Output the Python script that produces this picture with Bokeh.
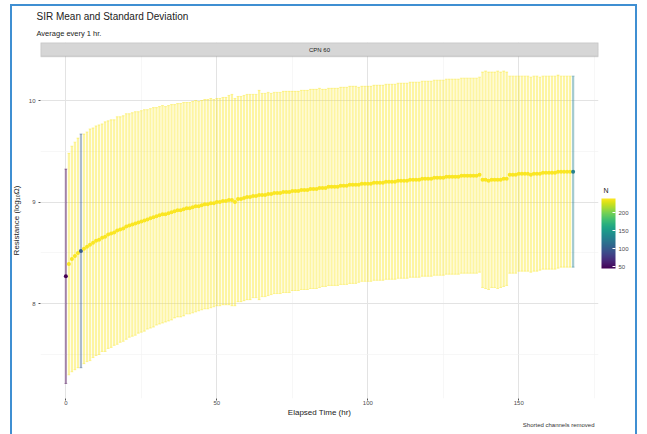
import numpy as np
from bokeh.plotting import figure
from bokeh.models import (ColumnDataSource, LinearColorMapper, ColorBar, FixedTicker,
                          Label, BoxAnnotation, Range1d, InlineStyleSheet, Title)
from bokeh.palettes import Viridis256
from bokeh.transform import transform
from bokeh.embed import file_html
from bokeh.resources import INLINE

# ---------------- data ----------------
hours = list(range(169))

mean_log = [
    8.27,
    8.39, 8.44, 8.47, 8.50,
    8.52,
    8.54, 8.56, 8.58, 8.60,
    8.62, 8.63, 8.65, 8.66, 8.68, 8.69, 8.70, 8.72, 8.73, 8.74,
    8.76, 8.77, 8.78, 8.79, 8.80, 8.81, 8.82, 8.83, 8.84, 8.85,
    8.86, 8.87, 8.88, 8.88, 8.89, 8.90, 8.91, 8.92, 8.92, 8.93,
    8.94, 8.94, 8.95, 8.96, 8.96, 8.97, 8.98, 8.98, 8.99, 8.99,
    9.00, 9.00, 9.01, 9.01, 9.02, 9.02, 9.00, 9.03, 9.03, 9.04,
    9.05, 9.05, 9.06, 9.06, 9.07, 9.07, 9.07, 9.08, 9.08, 9.09,
    9.09, 9.09, 9.10, 9.10, 9.10, 9.11, 9.11, 9.11, 9.12, 9.12,
    9.12, 9.13, 9.13, 9.13, 9.14, 9.14, 9.14, 9.15, 9.15, 9.15,
    9.15, 9.16, 9.16, 9.16, 9.17, 9.17, 9.17, 9.17, 9.18, 9.18,
    9.18, 9.18, 9.19, 9.19, 9.19, 9.19, 9.20, 9.20, 9.20, 9.20,
    9.21, 9.21, 9.21, 9.21, 9.22, 9.22, 9.22, 9.22, 9.23, 9.23,
    9.23, 9.23, 9.24, 9.24, 9.24, 9.24, 9.25, 9.25, 9.25, 9.25,
    9.25, 9.26, 9.26, 9.26, 9.26, 9.26, 9.26, 9.27,
    9.22, 9.22, 9.21, 9.22, 9.22, 9.22, 9.22, 9.23, 9.23,
    9.27, 9.27, 9.27, 9.28, 9.28, 9.28, 9.28, 9.27, 9.28, 9.28,
    9.28, 9.29, 9.29, 9.29, 9.29, 9.29, 9.30, 9.30, 9.30, 9.30,
    9.30, 9.30,
]

sd_log = [
    1.055,
    1.09, 1.11, 1.12, 1.13,
    1.15,
    1.13, 1.13, 1.14, 1.13,
    1.13, 1.13, 1.12, 1.13, 1.12, 1.12, 1.11, 1.12, 1.11, 1.11,
    1.11, 1.10, 1.10, 1.10, 1.09, 1.09, 1.09, 1.08, 1.08, 1.08,
    1.07, 1.07, 1.07, 1.06, 1.06, 1.06, 1.05, 1.05, 1.05, 1.05,
    1.04, 1.04, 1.04, 1.04, 1.03, 1.03, 1.03, 1.03, 1.03, 1.02,
    1.02, 1.02, 1.02, 1.02, 1.03, 1.04, 1.02, 1.01, 1.01, 1.01,
    1.01, 1.01, 1.00, 1.00, 1.03, 1.00, 1.00, 1.00, 0.99, 0.99,
    0.99, 0.99, 0.99, 0.99, 0.99, 0.98, 0.98, 0.98, 0.98, 0.98,
    0.98, 0.98, 0.98, 0.98, 0.98, 0.97, 0.97, 0.97, 0.97, 0.97,
    0.97, 0.97, 0.97, 0.97, 0.97, 0.97, 0.97, 0.96, 0.96, 0.96,
    0.96, 0.96, 0.96, 0.96, 0.96, 0.96, 0.96, 0.96, 0.96, 0.96,
    0.96, 0.96, 0.96, 0.96, 0.96, 0.96, 0.96, 0.96, 0.96, 0.96,
    0.96, 0.96, 0.96, 0.96, 0.96, 0.96, 0.96, 0.96, 0.96, 0.96,
    0.96, 0.96, 0.96, 0.96, 0.96, 0.96, 0.96, 0.96,
    1.06, 1.07, 1.07, 1.06, 1.06, 1.07, 1.06, 1.06, 1.05,
    0.97, 0.97, 0.97, 0.96, 0.96, 0.96, 0.96, 0.96, 0.96, 0.96,
    0.95, 0.95, 0.95, 0.95, 0.95, 0.95, 0.95, 0.94, 0.94, 0.94,
    0.94, 0.94,
]

n_count = [45, 238, 238, 238, 238, 100] + [238] * 162 + [130]

x_ticks = [0, 50, 100, 150]
x_minor = [25, 75, 125, 175]
y_ticks = [8, 9, 10]
y_minor = [7.5, 8.5, 9.5, 10.5]
n_ticks = [50, 100, 150, 200]

title_text = "SIR Mean and Standard Deviation"
subtitle_text = "Average every 1 hr."
strip_text = "CPN 60"
x_title = "Elapsed Time (hr)"
y_title = "Resistance (log\u2081\u2080\u03a9)"
caption_text = "Shorted channels removed"
legend_title = "N"

# ---------------- derived ----------------
lower = [m - s for m, s in zip(mean_log, sd_log)]
upper = [m + s for m, s in zip(mean_log, sd_log)]
src = ColumnDataSource(dict(
    t=hours, mean=mean_log, lo=lower, hi=upper, n=n_count,
    cl=[h - 0.45 for h in hours], cr=[h + 0.45 for h in hours],
))

FONT = "Liberation Sans"
X0, X1 = -8.4, 176.4
Y0, Y1 = 7.067, 10.571
panel_top = 10.433

p = figure(width=647, height=434, output_backend="svg", toolbar_location=None,
           x_range=Range1d(X0, X1), y_range=Range1d(Y0, Y1),
           min_border_left=40, min_border_right=49, min_border_top=42,
           min_border_bottom=36)
p.background_fill_color = "white"
p.border_fill_color = "white"
p.outline_line_color = None

mapper = LinearColorMapper(palette=Viridis256, low=45, high=239)

# grid
p.xgrid.ticker = FixedTicker(ticks=x_ticks, minor_ticks=x_minor)
p.ygrid.ticker = FixedTicker(ticks=y_ticks, minor_ticks=y_minor)
for g in (p.xgrid, p.ygrid):
    g.grid_line_color = "#e3e3e3"
    g.grid_line_width = 1
    g.minor_grid_line_color = "#f1f1f1"
    g.minor_grid_line_width = 0.6

# axes
p.xaxis.ticker = FixedTicker(ticks=x_ticks)
p.yaxis.ticker = FixedTicker(ticks=y_ticks)
for ax in (p.xaxis, p.yaxis):
    ax.axis_line_color = None
    ax.major_tick_line_color = "#555555"
    ax.major_tick_out = 2
    ax.major_tick_in = 0
    ax.minor_tick_line_color = None
    ax.major_label_text_font = FONT
    ax.major_label_text_font_size = "6px"
    ax.major_label_text_color = "#4d4d4d"
    ax.axis_label_text_font = FONT
    ax.axis_label_text_font_size = "8px"
    ax.axis_label_text_font_style = "normal"
    ax.axis_label_text_color = "#222222"
p.xaxis.axis_label = x_title
p.yaxis.axis_label = y_title
p.xaxis.major_label_standoff = 0
p.yaxis.major_label_standoff = 3
p.xaxis.axis_label_standoff = 0
p.yaxis.axis_label_standoff = 5

# error bars
p.segment(x0="t", y0="lo", x1="t", y1="hi", source=src, line_width=2.2,
          line_alpha=0.42, line_color=transform("n", mapper))
p.segment(x0="cl", y0="hi", x1="cr", y1="hi", source=src, line_width=1,
          line_alpha=0.42, line_color=transform("n", mapper))
p.segment(x0="cl", y0="lo", x1="cr", y1="lo", source=src, line_width=1,
          line_alpha=0.42, line_color=transform("n", mapper))
# mean points
p.scatter(x="t", y="mean", source=src, size=4, line_color=None,
          fill_color=transform("n", mapper))

# facet strip
p.add_layout(BoxAnnotation(bottom=panel_top, fill_color="#d6d6d6", fill_alpha=1,
                           line_color="#8a8a8a", line_width=1.5, level="overlay"))
p.add_layout(Label(x=84, y=panel_top + 0.065, text=strip_text, text_font=FONT,
                   text_font_size="6px", text_color="#1a1a1a",
                   text_align="center", text_baseline="middle", level="overlay"))

# title & subtitle (first added sits nearest the panel)
p.add_layout(Title(text=subtitle_text, align="left", offset=-4, standoff=10,
                   text_font=FONT, text_font_size="7.5px", text_color="#222222",
                   text_font_style="normal"), "above")
p.add_layout(Title(text=title_text, align="left", offset=-4, standoff=0,
                   text_font=FONT, text_font_size="10px", text_color="#222222",
                   text_font_style="normal"), "above")
# caption
p.add_layout(Title(text=caption_text, align="right", offset=4, standoff=0,
                   text_font=FONT, text_font_size="6px", text_color="#333333",
                   text_font_style="normal"), "below")

# color bar
cb = ColorBar(color_mapper=mapper, ticker=FixedTicker(ticks=n_ticks),
              width=14, height=70, padding=0, location=(561, 130),
              major_label_text_font=FONT, major_label_text_font_size="6px",
              major_label_text_color="#4d4d4d", label_standoff=3,
              major_tick_line_color="white", major_tick_out=0, major_tick_in=3,
              bar_line_color=None, background_fill_alpha=0, border_line_color=None)
p.add_layout(cb)

# legend title "N": an invisible companion bar that only shows one label
mid_n = (mapper.low + mapper.high) / 2
cb_title = ColorBar(color_mapper=mapper, ticker=FixedTicker(ticks=[mid_n]),
                    major_label_overrides={mid_n: legend_title},
                    width=1, height=10, padding=0, location=(561, 203),
                    scale_alpha=0, major_label_text_font=FONT,
                    major_label_text_font_size="7px",
                    major_label_text_color="#222222", label_standoff=1,
                    major_tick_line_color=None, minor_tick_line_color=None,
                    bar_line_color=None, background_fill_alpha=0,
                    border_line_color=None)
p.add_layout(cb_title)

# blue frame of the screenshot
p.stylesheets = [InlineStyleSheet(css=(
    ":host { position: relative; }"
    ":host::after { content: ''; position: absolute; left: 10px; top: 4px;"
    " width: 627px; height: 450px; border: 2.5px solid #3f8fd2;"
    " box-sizing: border-box; pointer-events: none; }"
))]

open("out.html", "w").write(file_html(p, INLINE))
